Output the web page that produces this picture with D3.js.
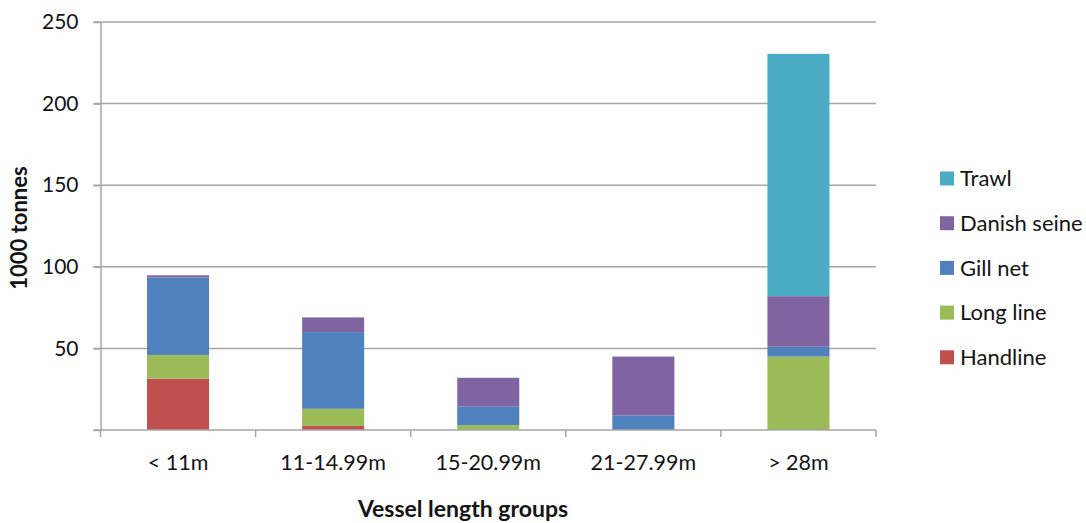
<!DOCTYPE html>
<html>
<head>
<meta charset="utf-8">
<script src="https://cdn.jsdelivr.net/npm/d3@7"></script>
<style>
  html, body { margin: 0; padding: 0; background: #fff; }
  svg { display: block; }
  text { font-family: Lato, "Open Sans", sans-serif; fill: #141414; }
</style>
</head>
<body>
<svg id="chart" width="1086" height="523"></svg>
<script>
// Landings by gear type and vessel length group (1000 tonnes)
const categories = ["< 11m", "11-14.99m", "15-20.99m", "21-27.99m", "> 28m"];
const gears = ["Handline", "Long line", "Gill net", "Danish seine", "Trawl"];
const handline    = [31.5,  2.5,  0,    0,    0];
const longLine    = [14.5, 10.5,  3,    0,   45];
const gillNet     = [47.5, 47,   11.5,  9,    6];
const danishSeine = [ 1.3,  9,   17.5, 36,   31];
const trawl       = [ 0,    0,    0,    0,  148.5];
const yTicks = [0, 50, 100, 150, 200, 250];
const colors = ["#C0504D", "#9BBB59", "#4F81BD", "#8064A2", "#4BACC6"];

const seriesValues = [handline, longLine, gillNet, danishSeine, trawl];
const rows = categories.map((c, i) => {
  const r = { category: c };
  gears.forEach((g, k) => { r[g] = seriesValues[k][i]; });
  return r;
});

const svg = d3.select("#chart");
const plot = { left: 100.5, right: 876, top: 22, bottom: 430 };

const x = d3.scaleBand().domain(categories).range([plot.left, plot.right]).padding(0);
const y = d3.scaleLinear().domain([0, 250]).range([plot.bottom, plot.top]);

// horizontal gridlines
svg.append("g")
  .selectAll("line")
  .data(yTicks.filter(d => d > 0))
  .join("line")
  .attr("x1", plot.left - 7).attr("x2", plot.right)
  .attr("y1", d => y(d)).attr("y2", d => y(d))
  .attr("stroke", "#a6a6a6").attr("stroke-width", 1.5);

// stacked bars
const stacked = d3.stack().keys(gears)(rows);
const barW = x.bandwidth() * 0.4;
svg.append("g")
  .selectAll("g")
  .data(stacked)
  .join("g")
  .attr("fill", (d, i) => colors[i])
  .selectAll("rect")
  .data(d => d.filter(p => p[1] - p[0] > 0))
  .join("rect")
  .attr("x", d => x(d.data.category) + (x.bandwidth() - barW) / 2)
  .attr("width", barW)
  .attr("y", d => y(d[1]))
  .attr("height", d => y(d[0]) - y(d[1]));

// y axis
const yAxis = d3.axisLeft(y)
  .tickValues(yTicks)
  .tickSize(7)
  .tickSizeOuter(0)
  .tickFormat(d => d === 0 ? "" : d);
const gy = svg.append("g").attr("transform", `translate(${plot.left},0)`).call(yAxis);
gy.select(".domain").attr("stroke", "#a6a6a6").attr("stroke-width", 1.5);
gy.selectAll(".tick line").attr("stroke", "#a6a6a6").attr("stroke-width", 1.5);
gy.selectAll(".tick text")
  .attr("x", -22)
  .style("font-size", "21px")
  .style("font-family", "Lato, sans-serif")
  .attr("fill", "#141414");

// x axis: ticks at group boundaries, labels centered in groups
const gx = svg.append("g").attr("transform", `translate(0,${plot.bottom})`);
gx.append("line")
  .attr("x1", plot.left - 7).attr("x2", plot.right)
  .attr("stroke", "#a6a6a6").attr("stroke-width", 1.5);
const bounds = categories.map(c => x(c)).concat([plot.right]);
gx.selectAll("line.tick")
  .data(bounds)
  .join("line")
  .attr("class", "tick")
  .attr("x1", d => d).attr("x2", d => d)
  .attr("y1", 0).attr("y2", 7)
  .attr("stroke", "#a6a6a6").attr("stroke-width", 1.5);
gx.selectAll("text")
  .data(categories)
  .join("text")
  .attr("x", d => x(d) + x.bandwidth() / 2)
  .attr("y", 40)
  .attr("text-anchor", "middle")
  .style("font-size", "21.5px")
  .text(d => d);

// axis titles
svg.append("text")
  .attr("transform", `translate(27,${(plot.top + plot.bottom) / 2 + 2}) rotate(-90)`)
  .attr("text-anchor", "middle")
  .style("font-size", "22px")
  .style("font-weight", "bold")
  .text("1000 tonnes");

svg.append("text")
  .attr("x", 463)
  .attr("y", 517)
  .attr("text-anchor", "middle")
  .style("font-size", "23px")
  .style("font-weight", "bold")
  .text("Vessel length groups");

// legend, top entry is the top of the stack
const legendItems = gears.map((g, i) => ({ name: g, color: colors[i] })).reverse();
const legend = svg.append("g")
  .selectAll("g")
  .data(legendItems)
  .join("g")
  .attr("transform", (d, i) => `translate(940,${178.5 + i * 44.7})`);
legend.append("rect")
  .attr("x", 0).attr("y", -7).attr("width", 14).attr("height", 14)
  .attr("fill", d => d.color);
legend.append("text")
  .attr("x", 20).attr("y", 0).attr("dy", "0.35em")
  .style("font-size", "22px")
  .text(d => d.name);
</script>
</body>
</html>
